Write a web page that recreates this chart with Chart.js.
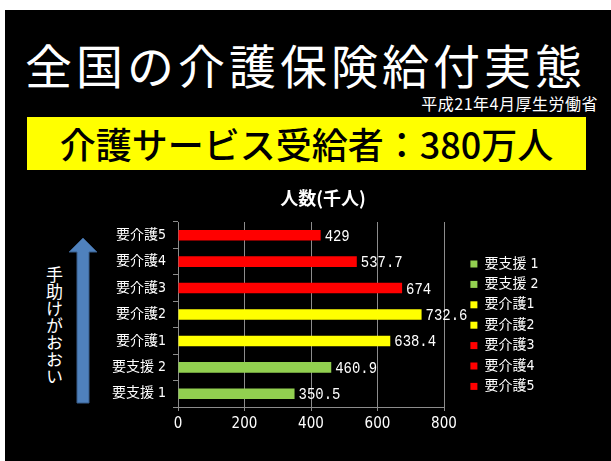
<!DOCTYPE html>
<html>
<head>
<meta charset="utf-8">
<script src="https://cdn.jsdelivr.net/npm/chart.js@4"></script>
<style>
  body { margin: 0; background: #fff; width: 611px; height: 461px; overflow: hidden; position: relative; font-family: 'Noto Sans CJK JP', sans-serif; }
  #slide { position: absolute; left: 5px; top: 10px; right: 0; bottom: 0; background: #000; }
  .abs { position: absolute; white-space: nowrap; }
  #title { left: 25px; top: 40px; font-size: 47px; line-height: 47px; color: #fff; font-weight: 400; letter-spacing: 4px; }
  #source { right: 13px; top: 94px; font-size: 16px; line-height: 18px; color: #fff; letter-spacing: 0.5px; }
  #banner { left: 27px; top: 117px; width: 559px; height: 53px; background: #ffff00; color: #000; font-size: 36px; font-weight: 500; line-height: 53px; text-align: center; }
  #side { left: 46px; top: 266px; writing-mode: vertical-rl; font-size: 17px; line-height: 17px; color: #fff; }
  #box { position: absolute; left: 35px; top: 175px; width: 576px; height: 286px; }
</style>
</head>
<body>
<div id="slide"></div>
<div class="abs" id="title">全国の介護保険給付実態</div>
<div class="abs" id="source">平成21年4月厚生労働省</div>
<div class="abs" id="banner">介護サービス受給者：380万人</div>
<svg class="abs" style="left:66px;top:236px" width="34" height="170">
  <polygon points="17,2 31,16 23,16 23,167 11,167 11,16 3,16" fill="#4f81bd" stroke="#385d8a" stroke-width="1"/>
</svg>
<div class="abs" id="side">手助けがおおい</div>
<div id="box"><canvas id="grafico"></canvas></div>

<script>
const categorias = ['要支援 1', '要支援 2', '要介護1', '要介護2', '要介護3', '要介護4', '要介護5'];
const valores = [350.5, 460.9, 638.4, 732.6, 674, 537.7, 429];
const colores = ['#92d050', '#92d050', '#ffff00', '#ffff00', '#ff0000', '#ff0000', '#ff0000'];
const ticksX = [0, 200, 400, 600, 800];

const fuenteCJK = "'Liberation Sans Narrow', 'DejaVu Sans Condensed', 'Noto Sans CJK JP', sans-serif";
const gris = '#8c8c8c';

Chart.defaults.font.family = "'Noto Sans CJK JP', sans-serif";
Chart.defaults.color = '#fff';

// numeros al final de cada barra
const etiquetas = {
  id: 'etiquetas',
  afterDatasetsDraw(chart) {
    const ctx = chart.ctx;
    const meta = chart.getDatasetMeta(0);
    ctx.save();
    ctx.fillStyle = '#fff';
    ctx.font = "17px 'Liberation Mono', monospace";
    ctx.textBaseline = 'middle';
    meta.data.forEach((barra, i) => {
      ctx.save();
      ctx.translate(barra.x + 4, barra.y + 1);
      ctx.scale(0.82, 1);
      ctx.fillText(String(valores[i]), 0, 0);
      ctx.restore();
    });
    ctx.restore();
  }
};

// leyenda mas ancha para dejar espacio a la derecha
const anchoLeyenda = {
  id: 'anchoLeyenda',
  beforeLayout(chart) {
    const leyenda = chart.legend;
    if (leyenda && !leyenda._ancho) {
      const fitOriginal = leyenda.fit;
      leyenda.fit = function () {
        fitOriginal.call(this);
        this.width = 147;
      };
      leyenda._ancho = true;
    }
  }
};

new Chart(document.getElementById('grafico'), {
  type: 'bar',
  data: {
    labels: categorias,
    datasets: [{
      label: '人数(千人)',
      data: valores,
      backgroundColor: colores,
      borderWidth: 0,
      categoryPercentage: 1,
      barPercentage: 0.4
    }]
  },
  options: {
    indexAxis: 'y',
    responsive: true,
    maintainAspectRatio: false,
    animation: false,
    events: [],
    layout: { padding: 0 },
    scales: {
      x: {
        min: 0,
        max: 800,
        afterBuildTicks: s => { s.ticks = ticksX.map(v => ({ value: v })); },
        afterFit: s => { s.height = 54; },
        grid: { color: gris, tickColor: gris, tickLength: 4 },
        border: { color: gris },
        ticks: { color: '#fff', padding: 4, font: { size: 15, family: fuenteCJK } }
      },
      y: {
        reverse: true,
        afterFit: s => { s.width = 143; },
        grid: { drawOnChartArea: false, color: gris, tickColor: gris, tickLength: 5 },
        border: { color: gris },
        ticks: { color: '#fff', padding: 7, font: { size: 14, family: fuenteCJK } }
      },
      hueco: {
        axis: 'y',
        type: 'category',
        position: 'right',
        afterFit: s => { s.width = 20; },
        grid: { display: false },
        border: { display: false },
        ticks: { display: false }
      }
    },
    plugins: {
      title: {
        display: true,
        text: '人数(千人)',
        color: '#fff',
        font: { size: 18, weight: 'bold' },
        padding: { top: 12, bottom: 13.4 }
      },
      legend: {
        position: 'right',
        fullSize: false,
        align: 'start',
        title: { display: true, text: '', font: { size: 10 }, padding: { top: 8, bottom: 8.6 } },
        labels: {
          color: '#fff',
          boxWidth: 7,
          boxHeight: 7,
          padding: 6.4,
          font: { size: 14, family: fuenteCJK },
          generateLabels: () => categorias.map((c, i) => ({
            text: c,
            fillStyle: colores[i],
            strokeStyle: colores[i],
            lineWidth: 0,
            fontColor: '#fff',
            hidden: false,
            index: i
          }))
        }
      },
      tooltip: { enabled: false }
    }
  },
  plugins: [etiquetas, anchoLeyenda]
});
</script>
</body>
</html>
